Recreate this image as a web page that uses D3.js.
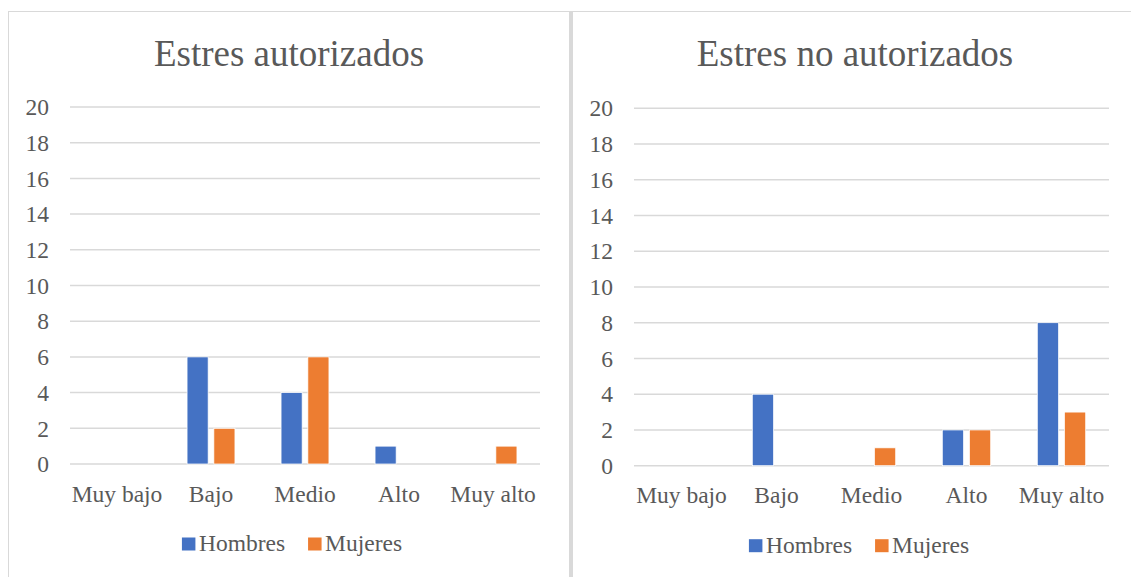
<!DOCTYPE html>
<html>
<head>
<meta charset="utf-8">
<script src="https://cdn.jsdelivr.net/npm/d3@7"></script>
<style>
  body { margin: 0; background: #fff; }
</style>
</head>
<body>
<div id="chart"></div>
<script>
var categories = ["Muy bajo", "Bajo", "Medio", "Alto", "Muy alto"];
var series = ["Hombres", "Mujeres"];
var colors = ["#4472C4", "#ED7D31"];
var yTicks = [0, 2, 4, 6, 8, 10, 12, 14, 16, 18, 20];

var autorizadosHombres = [0, 6, 4, 1, 0];
var autorizadosMujeres = [0, 2, 6, 0, 1];
var noAutorizadosHombres = [0, 4, 0, 2, 8];
var noAutorizadosMujeres = [0, 0, 1, 2, 3];

var W = 1131, H = 577;
var serif = "'Liberation Serif', 'Times New Roman', Times, 'DejaVu Serif', serif";

var svg = d3.select("#chart").append("svg")
  .attr("width", W)
  .attr("height", H)
  .attr("font-family", serif);

// panel borders
svg.append("rect")
  .attr("x", 8.5).attr("y", 11.5)
  .attr("width", 561).attr("height", 600)
  .attr("fill", "none").attr("stroke", "#d9d9d9").attr("stroke-width", 1);
svg.append("line")
  .attr("x1", 570).attr("x2", W).attr("y1", 11.5).attr("y2", 11.5)
  .attr("stroke", "#d9d9d9").attr("stroke-width", 1);
svg.append("rect")
  .attr("x", 570).attr("y", 11)
  .attr("width", 3).attr("height", H)
  .attr("fill", "#d9d9d9");

var panels = [
  { title: "Estres autorizados", cx: 289, legendX: 292, left: 70, right: 540, top: 107, bottom: 464,
    values: [autorizadosHombres, autorizadosMujeres] },
  { title: "Estres no autorizados", cx: 855, legendX: 859, left: 634, right: 1109, top: 108.2, bottom: 465.7,
    values: [noAutorizadosHombres, noAutorizadosMujeres] }
];

panels.forEach(function(p) {
  var g = svg.append("g");

  var x0 = d3.scaleBand()
    .domain(categories)
    .range([p.left, p.right])
    .padding(0);

  // excel defaults: gap width 219%, overlap -27%
  var x1 = d3.scaleBand()
    .domain(series)
    .range([0, x0.bandwidth()])
    .paddingInner(0.2126)
    .paddingOuter(0.86);

  var y = d3.scaleLinear()
    .domain([0, 20])
    .range([p.bottom, p.top]);

  g.append("text")
    .attr("x", p.cx)
    .attr("y", 65.5)
    .attr("text-anchor", "middle")
    .attr("font-family", serif)
    .attr("fill", "#595959")
    .style("font-size", "37px")
    .text(p.title);

  // gridlines
  g.selectAll(".grid")
    .data(yTicks)
    .enter().append("line")
    .attr("x1", p.left).attr("x2", p.right)
    .attr("y1", function(d) { return y(d); })
    .attr("y2", function(d) { return y(d); })
    .attr("stroke", "#d9d9d9")
    .attr("stroke-width", 1.5);

  // y tick labels
  g.selectAll(".ylab")
    .data(yTicks)
    .enter().append("text")
    .attr("x", p.left - 21)
    .attr("y", function(d) { return y(d); })
    .attr("dy", "0.35em")
    .attr("text-anchor", "end")
    .attr("font-family", serif)
    .attr("fill", "#595959")
    .style("font-size", "23.5px")
    .text(function(d) { return d; });

  // bars
  series.forEach(function(s, si) {
    g.selectAll(".bar-" + si)
      .data(p.values[si])
      .enter().append("rect")
      .attr("x", function(d, i) { return x0(categories[i]) + x1(s); })
      .attr("width", x1.bandwidth())
      .attr("y", function(d) { return y(d); })
      .attr("height", function(d) { return y(0) - y(d); })
      .attr("fill", colors[si])
      .attr("stroke", "#fff")
      .attr("stroke-width", 0.75)
      .style("display", function(d) { return d > 0 ? null : "none"; });
  });

  // x labels
  g.selectAll(".xlab")
    .data(categories)
    .enter().append("text")
    .attr("x", function(d) { return x0(d) + x0.bandwidth() / 2; })
    .attr("y", p.bottom + 37.5)
    .attr("text-anchor", "middle")
    .attr("font-family", serif)
    .attr("fill", "#595959")
    .style("font-size", "23.5px")
    .text(function(d) { return d; });

  // legend
  var leg = g.append("g");
  var offset = 0;
  series.forEach(function(s, si) {
    var item = leg.append("g").attr("transform", "translate(" + offset + ",0)");
    item.append("rect")
      .attr("x", 0).attr("y", -13.5)
      .attr("width", 13.5).attr("height", 13)
      .attr("fill", colors[si]);
    var t = item.append("text")
      .attr("x", 17)
      .attr("y", 0)
      .attr("font-family", serif)
      .attr("fill", "#595959")
      .style("font-size", "23.5px")
      .text(s);
    offset += 17 + t.node().getComputedTextLength() + 23;
  });
  var total = offset - 23;
  leg.attr("transform", "translate(" + (p.legendX - total / 2) + "," + (p.bottom + 87) + ")");
});
</script>
</body>
</html>
